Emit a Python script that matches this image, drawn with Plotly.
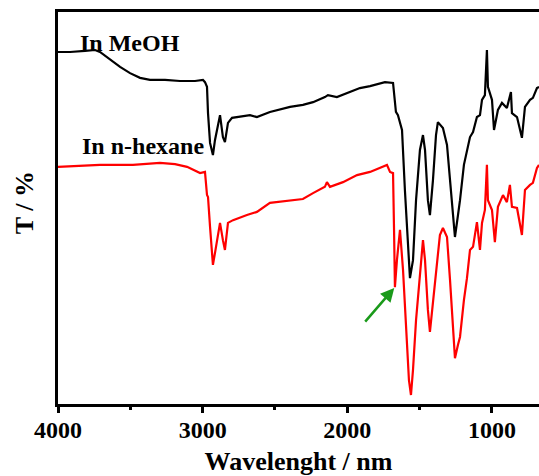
import plotly.graph_objects as go

# FTIR transmittance spectra (arbitrary T scale, 0-100)
wn_meoh = [4000, 3917, 3813, 3744, 3710, 3641, 3571, 3502, 3433, 3364, 3260, 3157, 3053,
           2998, 2984, 2970, 2963, 2949, 2929, 2915, 2880, 2860, 2846, 2825, 2797, 2673,
           2625, 2535, 2396, 2307, 2237, 2155, 2134, 2072, 1982, 1913, 1843, 1774, 1740,
           1684, 1664, 1650, 1622, 1602, 1581, 1567, 1546, 1525, 1498, 1477, 1463, 1443,
           1429, 1408, 1387, 1374, 1339, 1311, 1290, 1270, 1256, 1235, 1221, 1194, 1173,
           1152, 1131, 1104, 1083, 1069, 1049, 1035, 1028, 1000, 986, 959, 931, 897, 869,
           862, 827, 793, 772, 737, 717, 689, 675]
t_meoh = [89.8, 89.8, 90.1, 90.3, 89.8, 87.8, 86.0, 84.4, 83.2, 82.7, 82.7, 82.4, 82.4,
          82.7, 82.1, 80.9, 74.2, 66.6, 63.5, 67.3, 73.7, 68.1, 66.8, 71.7, 73.0, 73.7,
          73.2, 74.5, 75.8, 76.3, 77.0, 78.3, 78.8, 78.3, 79.6, 80.6, 81.1, 81.9, 82.1,
          81.9, 74.5, 73.7, 69.9, 54.6, 39.3, 32.1, 36.7, 52.0, 64.8, 68.6, 64.8, 52.0,
          48.2, 57.1, 68.6, 71.9, 70.4, 66.1, 57.1, 48.2, 42.6, 48.2, 52.0, 61.0, 64.8,
          68.1, 69.4, 73.2, 73.7, 77.6, 78.8, 90.3, 80.9, 77.6, 69.9, 75.0, 76.8, 75.5, 79.6,
          74.2, 73.2, 67.9, 75.8, 77.6, 78.1, 80.6, 80.9]

wn_hexane = [4000, 3848, 3710, 3482, 3295, 3191, 3108, 3018, 2984, 2970, 2963, 2949, 2936,
             2929, 2915, 2880, 2860, 2846, 2825, 2790, 2694, 2625, 2535, 2396, 2307, 2237,
             2155, 2141, 2120, 2030, 1933, 1843, 1754, 1726, 1705, 1684, 1677, 1671, 1657,
             1636, 1615, 1595, 1574, 1560, 1546, 1525, 1498, 1477, 1463, 1443, 1429, 1408,
             1380, 1360, 1339, 1311, 1290, 1270, 1256, 1235, 1221, 1194, 1173, 1152, 1131,
             1104, 1083, 1069, 1049, 1035, 1028, 1000, 980, 959, 924, 897, 876, 862, 827,
             793, 772, 737, 717, 689, 675]
t_hexane = [60.5, 60.7, 61.0, 61.0, 61.5, 61.2, 60.5, 58.9, 59.2, 53.3, 52.8, 45.2, 38.5,
            35.5, 38.5, 46.2, 41.8, 39.3, 46.2, 46.9, 48.2, 49.0, 51.3, 52.0, 52.3, 53.8,
            55.4, 56.6, 55.4, 56.6, 58.4, 59.2, 60.5, 61.0, 59.2, 58.9, 44.4, 29.8, 36.7,
            44.4, 34.2, 18.9, 6.1, 2.3, 8.7, 21.4, 33.4, 41.8, 36.7, 24.0, 18.4, 26.5,
            36.7, 43.1, 44.9, 42.6, 31.6, 18.9, 11.7, 15.1, 17.1, 26.5, 32.1, 39.3, 40.1,
            46.4, 39.3, 46.2, 49.5, 61.0, 52.0, 49.5, 41.3, 50.3, 53.3, 51.5, 55.9, 50.3, 50.0,
            43.1, 54.6, 55.9, 56.4, 60.2, 61.0]

x_ticks = [4000, 3000, 2000, 1000]
x_range = [4000, 675]

# marked shoulder in the n-hexane spectrum
shoulder_wn = 1671
shoulder_t = 29.8

serif = "Liberation Serif, Times New Roman, serif"

fig = go.Figure()
fig.add_trace(go.Scatter(x=wn_meoh, y=t_meoh, mode="lines",
                         line=dict(color="black", width=2.2), name="In MeOH"))
fig.add_trace(go.Scatter(x=wn_hexane, y=t_hexane, mode="lines",
                         line=dict(color="#ff0000", width=2.2), name="In n-hexane"))

fig.update_layout(
    width=539, height=476,
    margin=dict(l=58, r=0, t=12, b=72),
    plot_bgcolor="white", paper_bgcolor="white",
    showlegend=False,
    font=dict(family=serif, color="black", size=24),
    xaxis=dict(
        range=x_range, tickvals=x_ticks, ticktext=[str(v) for v in x_ticks],
        showgrid=False, zeroline=False,
        showline=True, linecolor="black", linewidth=3, mirror=True,
        ticks="outside", ticklen=6, tickwidth=3, tickcolor="black",
        ticklabelstandoff=-4,
        minor=dict(tickvals=[3500, 2500, 1500], ticks="outside", ticklen=3,
                   tickwidth=3, tickcolor="black", showgrid=False),
        tickfont=dict(family=serif, size=24, weight="bold"),
        title=dict(text="Wavelenght / nm", standoff=16,
                   font=dict(family=serif, size=26, weight="bold")),
    ),
    yaxis=dict(
        range=[0, 100], showticklabels=False, ticks="",
        showgrid=False, zeroline=False,
        showline=True, linecolor="black", linewidth=3, mirror=False,
    ),
)

fig.add_annotation(x=-0.068, y=0.513, xref="paper", yref="paper",
                   xanchor="center", yanchor="middle",
                   text="T / %", textangle=-90, showarrow=False,
                   font=dict(family=serif, size=26, weight="bold"))

fig.add_annotation(x=3862, y=92.1, text="In MeOH", showarrow=False,
                   xanchor="left", yanchor="middle",
                   font=dict(family=serif, size=24, weight="bold"))
fig.add_annotation(x=3848, y=65.8, text="In n-hexane", showarrow=False,
                   xanchor="left", yanchor="middle",
                   font=dict(family=serif, size=24, weight="bold"))

fig.add_annotation(x=shoulder_wn, y=shoulder_t, ax=-31, ay=36, text="",
                   showarrow=True, arrowhead=2, arrowsize=1.1, arrowwidth=2.5,
                   arrowcolor="#1a9a1a", standoff=1)

fig.write_html("out.html")
